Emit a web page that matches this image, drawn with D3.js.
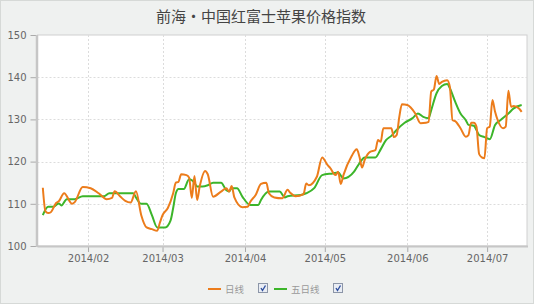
<!DOCTYPE html>
<html>
<head>
<meta charset="utf-8">
<script src="https://cdn.jsdelivr.net/npm/d3@7"></script>
<style>
  html, body { margin: 0; padding: 0; background: #fff; }
  svg { display: block; }
</style>
</head>
<body>
<div id="chart"></div>
<script>
const title = '前海·中国红富士苹果价格指数';
const seriesNames = ['日线', '五日线'];
const yTicks = [100, 110, 120, 130, 140, 150];
const monthTicks = ['2014-02-01', '2014-03-01', '2014-04-01', '2014-05-01', '2014-06-01', '2014-07-01'];

const dailyDates = [
    '01-15', '01-16', '01-17', '01-18', '01-20', '01-21', '01-23', '01-26', '01-27', '01-30',
    '02-02', '02-05', '02-08', '02-10', '02-11', '02-13', '02-15', '02-17', '02-19', '02-21',
    '02-23', '02-25', '02-27', '02-28', '03-01', '03-03', '03-05', '03-06', '03-07', '03-08',
    '03-10', '03-11', '03-12', '03-13', '03-14', '03-15', '03-17', '03-18', '03-20', '03-23',
    '03-25', '03-26', '03-27', '03-28', '03-31', '04-02', '04-03', '04-05', '04-07', '04-09',
    '04-10', '04-12', '04-15', '04-17', '04-18', '04-20', '04-23', '04-24', '04-25', '04-28',
    '04-30', '05-02', '05-03', '05-05', '05-06', '05-07', '05-08', '05-11', '05-13', '05-14',
    '05-15', '05-16', '05-18', '05-20', '05-21', '05-22', '05-23', '05-26', '05-27', '05-28',
    '05-29', '05-30', '06-01', '06-04', '06-06', '06-08', '06-09', '06-10', '06-11', '06-12',
    '06-13', '06-14', '06-16', '06-17', '06-18', '06-19', '06-21', '06-23', '06-24', '06-25',
    '06-26', '06-27', '06-28', '06-29', '06-30', '07-01', '07-02', '07-03', '07-04', '07-05',
    '07-07', '07-08', '07-09', '07-10', '07-11', '07-13', '07-14'
];
const dailyValues = [
    113.8, 108.2, 107.8, 108.0, 110.2, 110.6, 112.5, 110.0, 110.4, 114.0,
    113.7, 112.5, 111.1, 111.4, 113.0, 111.8, 110.7, 110.3, 113.0, 107.3,
    104.4, 104.0, 103.6, 105.5, 107.3, 109.0, 112.5, 115.0, 115.2, 117.0,
    116.8, 116.2, 111.4, 116.6, 110.9, 114.2, 117.8, 117.0, 111.7, 112.9,
    113.7, 112.9, 114.2, 111.5, 109.2, 109.3, 110.5, 112.1, 114.7, 115.0,
    112.5, 111.5, 111.3, 113.3, 112.6, 111.8, 112.3, 114.8, 114.4, 116.4,
    121.0, 119.2, 118.5, 116.8, 117.6, 114.7, 116.8, 121.2, 122.9, 121.2,
    118.6, 120.4, 122.3, 122.7, 125.1, 124.7, 127.9, 127.9, 125.8, 126.3,
    130.6, 133.6, 133.4, 131.4, 129.1, 129.2, 129.4, 136.6, 137.1, 140.3,
    138.4, 138.9, 139.3, 137.7, 129.8, 129.6, 127.9, 125.9, 126.3, 129.2,
    129.2, 128.3, 121.8, 121.0, 120.8, 127.9, 128.3, 134.6, 131.8, 129.8,
    127.9, 128.3, 136.8, 133.0, 133.2, 132.6, 131.8
];

const fiveDayDates = [
    '01-15', '01-17', '01-19', '01-21', '01-22', '01-24', '01-27', '01-30', '02-07', '02-09',
    '02-18', '02-19', '02-21', '02-23', '02-25', '02-27', '03-02', '03-04', '03-05', '03-06',
    '03-07', '03-09', '03-11', '03-13', '03-14', '03-16', '03-18', '03-20', '03-23', '03-25',
    '03-26', '03-27', '03-29', '03-31', '04-03', '04-06', '04-07', '04-10', '04-14', '04-16',
    '04-17', '04-22', '04-24', '04-27', '04-30', '05-04', '05-06', '05-08', '05-12', '05-14',
    '05-16', '05-20', '05-22', '05-24', '05-26', '05-28', '05-31', '06-03', '06-05', '06-07',
    '06-09', '06-10', '06-12', '06-14', '06-16', '06-17', '06-19', '06-21', '06-23', '06-24',
    '06-26', '06-28', '06-30', '07-02', '07-04', '07-06', '07-09', '07-11', '07-14'
];
const fiveDayValues = [
    107.3, 109.3, 109.3, 110.1, 109.6, 111.1, 111.1, 111.8, 111.8, 112.5,
    112.5, 111.5, 110.0, 110.0, 107.3, 104.4, 104.4, 106.0, 109.0, 112.5,
    113.5, 113.5, 115.8, 115.0, 114.1, 114.1, 114.4, 115.0, 115.0, 113.2,
    112.9, 113.7, 113.7, 111.7, 109.7, 109.7, 110.9, 112.9, 112.9, 111.5,
    111.8, 112.1, 112.5, 113.7, 116.8, 117.2, 117.4, 116.0, 117.6, 119.6,
    121.0, 121.0, 122.9, 125.1, 126.1, 127.5, 129.2, 130.3, 131.4, 130.6,
    130.3, 132.2, 136.2, 137.9, 138.4, 137.4, 134.2, 131.4, 129.8, 128.7,
    128.5, 126.3, 125.8, 125.3, 128.7, 129.8, 131.4, 132.6, 133.4
];

const COLORS = { daily: '#ec7c1b', fiveDay: '#3cb52a', grid: '#dcdcdc', text: '#666', bg: '#eff1f0' };

const W = 536, H = 307;
const plot = { left: 37.5, right: 527, top: 35, bottom: 246 };
const parse = d3.timeParse('%Y-%m-%d');

const svg = d3.select('#chart').append('svg')
    .attr('width', W).attr('height', H)
    .attr('viewBox', `0 0 ${W} ${H}`)
    .style('font-family', '"DejaVu Sans", Verdana, sans-serif');

svg.append('rect').attr('x', 0.5).attr('y', 0.5).attr('width', W - 3).attr('height', H - 4)
    .attr('fill', COLORS.bg).attr('stroke', '#d6d9d7');

svg.append('text').attr('x', 261).attr('y', 21.5).attr('text-anchor', 'middle')
    .style('font-family', '"Noto Sans CJK SC", sans-serif').style('font-size', '15px')
    .attr('fill', '#444').text(title);

const x = d3.scaleTime()
    .domain([parse('2014-01-13'), parse('2014-07-16')])
    .range([plot.left, plot.right]);
const y = d3.scaleLinear().domain([100, 150]).range([plot.bottom, plot.top]);

svg.append('rect').attr('x', plot.left).attr('y', plot.top)
    .attr('width', plot.right - plot.left).attr('height', plot.bottom - plot.top)
    .attr('fill', '#fff').attr('stroke', '#d0d0d0');

// Gridlines
svg.append('g').selectAll('line.h').data(yTicks.slice(1, -1)).enter().append('line')
    .attr('x1', plot.left).attr('x2', plot.right)
    .attr('y1', (d) => Math.round(y(d)) + 0.5).attr('y2', (d) => Math.round(y(d)) + 0.5)
    .attr('stroke', COLORS.grid).attr('stroke-dasharray', '2,2');
svg.append('g').selectAll('line.v').data(monthTicks).enter().append('line')
    .attr('x1', (d) => Math.round(x(parse(d))) + 0.5).attr('x2', (d) => Math.round(x(parse(d))) + 0.5)
    .attr('y1', plot.top).attr('y2', plot.bottom)
    .attr('stroke', COLORS.grid).attr('stroke-dasharray', '2,2');

// Axes
const styleAxis = (sel) => {
    sel.select('.domain').remove();
    sel.selectAll('line').attr('stroke', '#aaa');
    sel.selectAll('text').attr('fill', COLORS.text).style('font-size', '10px')
        .style('font-family', '"DejaVu Sans", Verdana, sans-serif');
};
svg.append('g').attr('transform', `translate(${plot.left - 1},0)`)
    .call(d3.axisLeft(y).tickValues(yTicks).tickSize(6).tickPadding(4))
    .call(styleAxis);
svg.append('g').attr('transform', `translate(0,${plot.bottom})`)
    .call(d3.axisBottom(x).tickValues(monthTicks.map(parse)).tickSize(6).tickPadding(3)
        .tickFormat(d3.timeFormat('%Y/%m')))
    .call(styleAxis);

svg.append('line').attr('x1', plot.left - 0.5).attr('x2', plot.left - 0.5)
    .attr('y1', plot.top).attr('y2', plot.bottom + 1)
    .attr('stroke', '#c6c6c6').attr('stroke-width', 2.5);
svg.append('line').attr('x1', plot.left).attr('x2', plot.right + 1)
    .attr('y1', plot.bottom + 0.5).attr('y2', plot.bottom + 0.5)
    .attr('stroke', '#c6c6c6').attr('stroke-width', 2);

// Lines
const toPoints = (dates, values) => dates.map((d, i) => ({ date: parse('2014-' + d), value: values[i] }));
const line = d3.line().x((d) => x(d.date)).y((d) => y(d.value)).curve(d3.curveMonotoneX);

svg.append('path').datum(toPoints(fiveDayDates, fiveDayValues))
    .attr('fill', 'none').attr('stroke', COLORS.fiveDay).attr('stroke-width', 2)
    .attr('stroke-linejoin', 'round').attr('d', line);
svg.append('path').datum(toPoints(dailyDates, dailyValues))
    .attr('fill', 'none').attr('stroke', COLORS.daily).attr('stroke-width', 2)
    .attr('stroke-linejoin', 'round').attr('d', line);

// Legend
const legend = [
    { name: seriesNames[0], color: COLORS.daily, x: 208, box: 258.5 },
    { name: seriesNames[1], color: COLORS.fiveDay, x: 274, box: 333.5 }
];
const lg = svg.append('g').selectAll('g').data(legend).enter().append('g');
lg.append('line').attr('x1', (d) => d.x).attr('x2', (d) => d.x + 13)
    .attr('y1', 289).attr('y2', 289).attr('stroke', (d) => d.color).attr('stroke-width', 2);
lg.append('text').attr('x', (d) => d.x + 17).attr('y', 293)
    .style('font-family', '"Noto Sans CJK SC", sans-serif').style('font-size', '9.5px')
    .attr('fill', '#999').text((d) => d.name);
lg.append('rect').attr('x', (d) => d.box).attr('y', 283.5).attr('width', 9).attr('height', 9)
    .attr('fill', '#e9edf4').attr('stroke', '#8c96a8');
lg.append('path').attr('d', (d) => `M${d.box + 2.5},${288} L${d.box + 4},${290.5} L${d.box + 7},${285.5}`)
    .attr('fill', 'none').attr('stroke', '#2f4f9e').attr('stroke-width', 1.4);
</script>
</body>
</html>
